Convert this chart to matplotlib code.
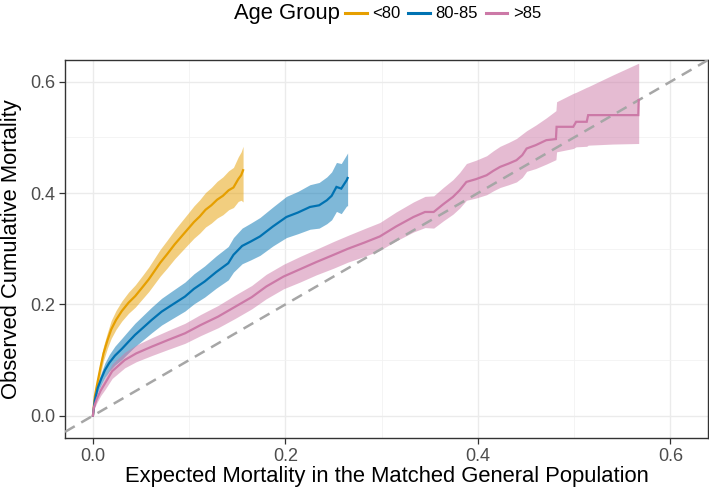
import matplotlib
matplotlib.use("Agg")
import matplotlib.pyplot as plt
from matplotlib.lines import Line2D

plt.rcParams['font.family'] = ['Liberation Sans', 'DejaVu Sans']

# ---------------- data ----------------
groups = ["<80", "80-85", ">85"]
colors = ["#E69F00", "#0072B2", "#CC79A7"]

x_lt80 = [0, .002, .005, .008, .011, .015, .019, .024, .030, .037, .044, .052, .058, .064, .070,
          .077, .085, .092, .099, .105, .111, .117, .123, .129, .135, .141, .146, .151, .154, .156]
y_lt80 = [0, .035, .062, .088, .112, .135, .155, .172, .188, .203, .215, .232, .245, .260, .275,
          .290, .308, .322, .336, .348, .358, .370, .378, .388, .395, .405, .410, .425, .432, .441]
lo_lt80 = [0, .027, .052, .076, .099, .121, .139, .155, .170, .184, .195, .211, .223, .237, .251,
           .265, .282, .295, .308, .319, .328, .339, .346, .355, .361, .370, .374, .385, .387, .384]
hi_lt80 = [0, .043, .072, .100, .125, .149, .171, .189, .206, .222, .235, .253, .267, .283, .299,
           .315, .334, .349, .364, .377, .388, .401, .410, .421, .429, .440, .446, .465, .474, .484]

x_80_85 = [0, .002, .005, .009, .0125, .017, .0229, .030, .037, .0436, .052, .061, .0714, .083,
           .0956, .105, .116, .128, .1406, .146, .155, .164, .1735, .187, .201, .213, .2255, .235,
           .243, .248, .253, .258, .2636, .2646]
y_80_85 = [0, .028, .050, .068, .082, .095, .108, .120, .133, .145, .158, .172, .187, .200,
           .214, .228, .241, .258, .274, .289, .305, .313, .322, .340, .357, .365, .375, .378,
           .387, .395, .411, .408, .423, .427]
lo_80_85 = [0, .023, .042, .057, .069, .080, .091, .101, .113, .124, .136, .149, .163, .175,
            .188, .201, .213, .229, .244, .258, .273, .280, .288, .305, .320, .327, .335, .337,
            .345, .352, .367, .363, .377, .377]
hi_80_85 = [0, .033, .058, .079, .095, .110, .125, .139, .153, .166, .180, .195, .211, .225,
            .240, .255, .269, .287, .304, .320, .337, .346, .356, .375, .394, .403, .415, .419,
            .429, .438, .455, .453, .469, .472]

x_gt85 = [0, .001, .004, .008, .0125, .020, .033, .045, .061, .078, .0956, .112, .130, .148,
          .165, .180, .198, .215, .232, .250, .265, .282, .298, .315, .333, .345, .354, .364,
          .374, .381, .388, .398, .409, .416, .423, .432, .440, .446, .4506, .460, .471, .481,
          .4817, .499, .502, .513, .5145, .540, .5666, .567]
y_gt85 = [0, .015, .030, .045, .058, .080, .100, .112, .124, .136, .148, .163, .178, .196,
          .213, .232, .250, .263, .276, .289, .300, .311, .322, .340, .357, .366, .366, .380,
          .393, .405, .420, .425, .432, .440, .447, .453, .459, .468, .480, .486, .495, .497,
          .519, .519, .528, .528, .540, .540, .540, .567]
lo_gt85 = [0, .011, .023, .036, .047, .067, .086, .097, .108, .119, .130, .144, .158, .175,
           .192, .210, .228, .240, .253, .265, .276, .286, .297, .314, .330, .338, .337, .350,
           .362, .373, .387, .391, .397, .404, .410, .415, .420, .428, .439, .444, .452, .460,
           .474, .480, .483, .484, .486, .488, .489, .489]
hi_gt85 = [0, .019, .037, .054, .069, .093, .114, .127, .140, .153, .166, .182, .198, .217,
           .234, .254, .272, .286, .299, .313, .324, .336, .347, .366, .384, .394, .395, .410,
           .424, .437, .453, .459, .467, .476, .484, .491, .498, .506, .512, .522, .535, .548,
           .564, .579, .581, .590, .591, .612, .633, .633]

series = [
    (x_lt80, y_lt80, lo_lt80, hi_lt80),
    (x_80_85, y_80_85, lo_80_85, hi_80_85),
    (x_gt85, y_gt85, lo_gt85, hi_gt85),
]

x_ticks = [0.0, 0.2, 0.4, 0.6]
y_ticks = [0.0, 0.2, 0.4, 0.6]
x_minor = [0.1, 0.3, 0.5]
y_minor = [0.1, 0.3, 0.5]

# ---------------- figure ----------------
fig = plt.figure(figsize=(7.09, 4.88), dpi=100)
ax = fig.add_axes([65/709, 1-438/488, (708-65)/709, (438-60)/488])

for (xs, ys, lo, hi), c in zip(series, colors):
    ax.fill_between(xs, lo, hi, color=c, alpha=0.5, linewidth=0, zorder=2)
for (xs, ys, lo, hi), c in zip(series, colors):
    ax.plot(xs, ys, color=c, lw=1.6, zorder=4, solid_joinstyle='miter')

ax.axline((0, 0), slope=1, color="#A6A6A6", lw=1.8, dashes=(4.5, 3), zorder=3)

ax.set_xlim(-0.029, 0.639)
ax.set_ylim(-0.040, 0.639)
ax.set_xticks(x_ticks)
ax.set_yticks(y_ticks)
ax.set_xticklabels([f"{v:.1f}" for v in x_ticks])
ax.set_yticklabels([f"{v:.1f}" for v in y_ticks])
ax.set_xticks(x_minor, minor=True)
ax.set_yticks(y_minor, minor=True)
ax.grid(which='major', color="#EBEBEB", lw=1.0, zorder=0)
ax.grid(which='minor', color="#F2F2F2", lw=0.6, zorder=0)
ax.set_axisbelow(True)
ax.tick_params(which='major', length=4, width=0.9, color="#333333",
               labelsize=13, labelcolor="#4D4D4D", pad=3)
ax.tick_params(which='minor', length=0)
for s in ax.spines.values():
    s.set_color("#333333")
    s.set_linewidth(1.0)

ax.set_xlabel("Expected Mortality in the Matched General Population", fontsize=15.8,
              labelpad=1)
ax.set_ylabel("Observed Cumulative Mortality", fontsize=15.8, labelpad=6)

# legend
fig.text(340/709, 1-14/488, "Age Group", fontsize=15.8, ha='right', va='center')
handles = [Line2D([], [], color=c, lw=2.2) for c in colors]
fig.legend(handles, groups, loc='center left', bbox_to_anchor=(345/709, 1-14/488),
           ncol=3, frameon=False, fontsize=12, handlelength=1.3, handletextpad=0.35,
           columnspacing=0.45, borderpad=0, borderaxespad=0)

fig.savefig("out.png", dpi=100)
